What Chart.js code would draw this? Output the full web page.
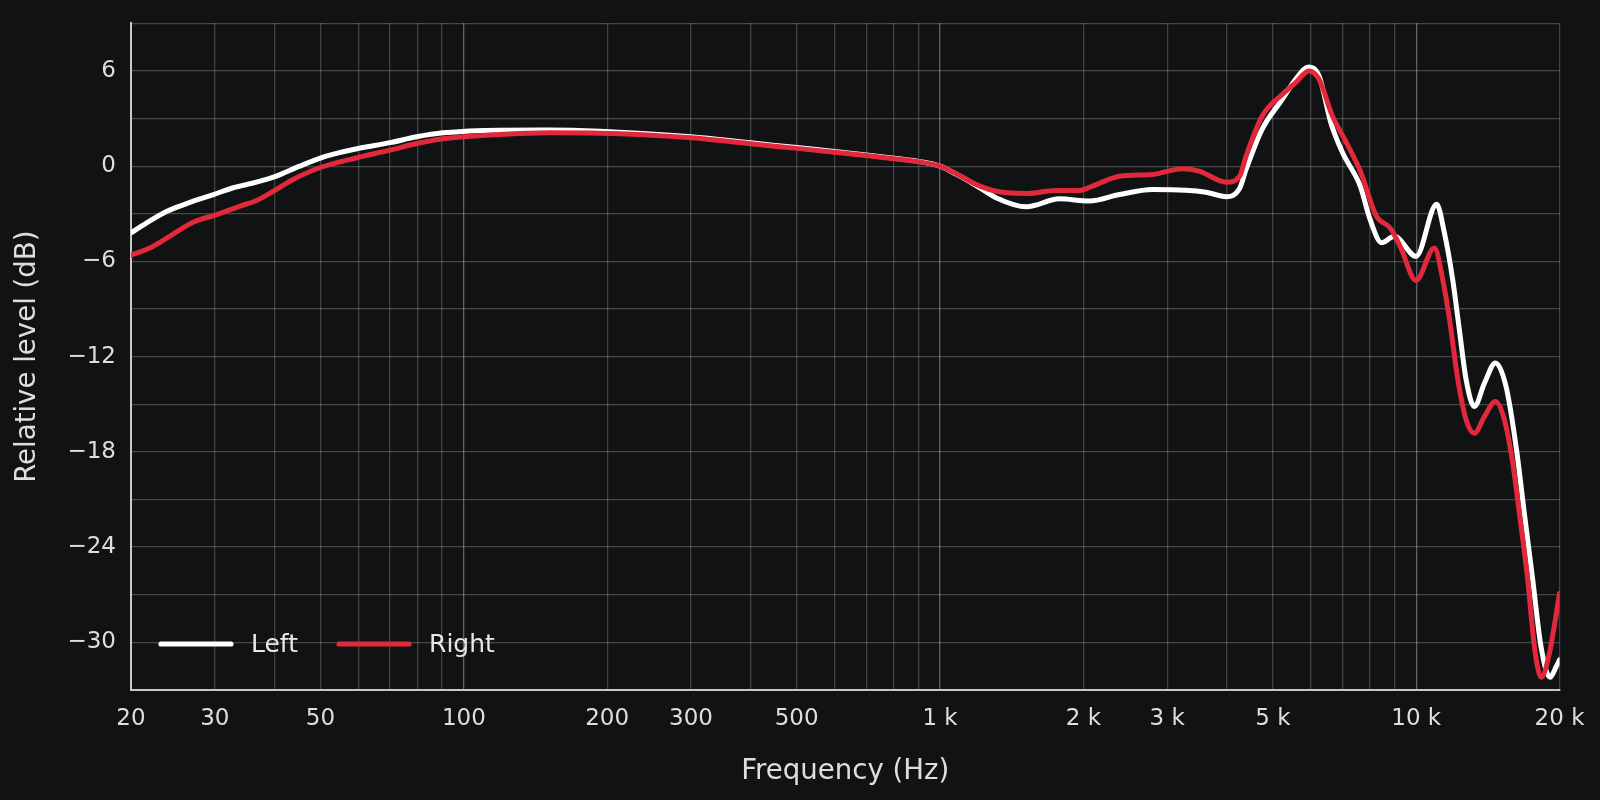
<!DOCTYPE html>
<html><head><meta charset="utf-8">
<script src="https://cdn.jsdelivr.net/npm/chart.js@4.4.1/dist/chart.umd.min.js"></script>
<style>html,body{margin:0;padding:0;background:#111214;}#wrap{width:1600px;height:800px;}</style>
</head><body><div id="wrap"><canvas id="c" width="1600" height="800" style="width:1600px;height:800px"></canvas></div>
<script>
const seriesNames = ['Left', 'Right'];
const leftFreq = [20,21.5,23.8,26.5,29.8,32.8,36.7,40.4,45.2,51.4,59.6,70,79.6,90.4,119,151,193,300,400,500,600,700,800,900,1000,1084,1212,1314,1518,1782,2060,2380,2794,3280,3620,3992,4258,4392,4746,5232,5582,5935,6252,6618,7006,7630,7990,8460,9000,9992,11040,11460,11930,12320,12730,13250,13910,14670,15440,16210,16870,17570,18290,19100,19660,20000];
const leftDb = [-4.2,-3.6,-2.84,-2.3,-1.79,-1.36,-1.01,-0.63,0.0,0.63,1.1,1.48,1.85,2.1,2.27,2.28,2.2,1.85,1.47,1.17,0.93,0.71,0.5,0.3,0.0,-0.52,-1.36,-2.0,-2.56,-2.06,-2.2,-1.79,-1.47,-1.51,-1.64,-1.92,-1.4,-0.21,2.32,4.21,5.47,6.25,5.68,2.74,0.84,-1.26,-3.3,-4.83,-4.42,-5.68,-2.4,-4.2,-7.15,-10.3,-13.45,-15.14,-13.67,-12.4,-13.88,-17.67,-21.87,-26.08,-30.28,-32.2,-31.55,-31.1];
const rightFreq = [20,21.9,24.1,27,30.3,33.9,36.7,39.8,43.8,49.8,59.6,70,79.6,90.4,119,151,193,300,400,500,600,700,800,900,1000,1084,1212,1314,1518,1754,1964,2090,2380,2794,3228,3500,3992,4258,4392,4746,5232,5582,5950,6252,6660,7130,7630,8250,8820,9270,9992,10920,11370,11750,12230,12730,13250,13910,14670,15320,15950,16470,17150,17710,18300,19040,20000];
const rightDb = [-5.6,-5.15,-4.42,-3.53,-3.05,-2.52,-2.16,-1.58,-0.84,-0.1,0.53,1.01,1.43,1.73,2.0,2.1,2.08,1.79,1.41,1.12,0.88,0.67,0.47,0.28,0.0,-0.5,-1.26,-1.58,-1.72,-1.53,-1.53,-1.26,-0.63,-0.52,-0.16,-0.31,-1.01,-0.63,0.63,3.15,4.52,5.26,6.0,5.47,3.2,1.5,-0.3,-3.15,-3.89,-5.1,-7.2,-5.15,-7.15,-9.67,-13.45,-15.98,-16.82,-15.77,-14.83,-15.98,-18.71,-21.87,-26.08,-30.28,-32.2,-30.7,-26.9];
const xGridValues = [20,30,40,50,60,70,80,90,100,200,300,400,500,600,700,800,900,1000,2000,3000,4000,5000,6000,7000,8000,9000,10000,20000];
const xTickValues = [20,30,50,100,200,300,500,1000,2000,3000,5000,10000,20000];
const xTickLabels = ['20','30','50','100','200','300','500','1 k','2 k','3 k','5 k','10 k','20 k'];
const yTickValues = [6,0,-6,-12,-18,-24,-30];
const xMajorValues = [100,1000,10000];

const FONT = '"DejaVu Sans", "Liberation Sans", sans-serif';
const TEXT = '#dedede';

const legendPlugin = {
  id: 'insideLegend',
  afterDraw(chart) {
    const ctx = chart.ctx, a = chart.chartArea;
    ctx.save();
    ctx.font = '25px ' + FONT;
    ctx.textBaseline = 'middle';
    ctx.lineCap = 'round';
    let x = a.left + 30;
    const y = a.bottom - 46;
    chart.data.datasets.forEach(ds => {
      ctx.strokeStyle = ds.borderColor;
      ctx.lineWidth = 5.2;
      ctx.beginPath(); ctx.moveTo(x, y); ctx.lineTo(x + 70, y); ctx.stroke();
      ctx.fillStyle = '#e8e8e8';
      ctx.fillText(ds.label, x + 90, y + 1);
      x += 90 + ctx.measureText(ds.label).width + 41;
    });
    ctx.restore();
  }
};

const bgPlugin = {
  id: 'bg',
  beforeDraw(chart) {
    const ctx = chart.ctx;
    ctx.save(); ctx.fillStyle = '#111214'; ctx.fillRect(0, 0, chart.width, chart.height); ctx.restore();
  }
};

new Chart(document.getElementById('c'), {
  type: 'line',
  data: {
    datasets: [
      { label: seriesNames[0], data: leftFreq.map((f, i) => ({x: f, y: leftDb[i]})), borderColor: '#ffffff', order: 1 },
      { label: seriesNames[1], data: rightFreq.map((f, i) => ({x: f, y: rightDb[i]})), borderColor: '#e2283b', order: 0 }
    ]
  },
  options: {
    responsive: false,
    animation: false,
    devicePixelRatio: 1,
    layout: { padding: { left: 0, right: 40, top: 23.3, bottom: 0 } },
    elements: {
      point: { radius: 0 },
      line: { borderWidth: 5, cubicInterpolationMode: 'monotone', borderCapStyle: 'round', borderJoinStyle: 'round' }
    },
    plugins: { legend: { display: false }, tooltip: { enabled: false } },
    scales: {
      x: {
        type: 'logarithmic', min: 20, max: 20000,
        afterBuildTicks(scale) { scale.ticks = xGridValues.map(v => ({ value: v })); },
        afterFit(scale) { scale.height = 110; },
        ticks: {
          autoSkip: false, maxRotation: 0, minRotation: 0, padding: 15.5, color: TEXT,
          font: { family: FONT, size: 23 },
          callback(v) { const i = xTickValues.indexOf(v); return i >= 0 ? xTickLabels[i] : ''; }
        },
        grid: {
          drawTicks: false,
          color: ctx => (ctx.tick && xMajorValues.includes(ctx.tick.value)) ? 'rgba(255,255,255,0.34)' : 'rgba(255,255,255,0.2)',
          lineWidth: 1.3
        },
        border: { display: true, color: '#c8c8c8', width: 2 },
        title: { display: true, text: 'Frequency (Hz)', color: TEXT, font: { family: FONT, size: 27.6 }, padding: { top: 0, bottom: 11.4 } }
      },
      y: {
        type: 'linear', min: -33, max: 9,
        afterFit(scale) { scale.width = 131; scale.paddingTop = 0; scale.paddingBottom = 0; },
        ticks: {
          stepSize: 3, padding: 15, color: TEXT, font: { family: FONT, size: 23 },
          callback(v) { return yTickValues.includes(v) ? (v < 0 ? '\u2212' + Math.abs(v) : String(v)) : ''; }
        },
        grid: { drawTicks: false, color: 'rgba(255,255,255,0.22)', lineWidth: 1.3 },
        border: { display: true, color: '#c8c8c8', width: 2 },
        title: { display: true, text: 'Relative level (dB)', color: TEXT, font: { family: FONT, size: 27.6 }, padding: { top: 11.5, bottom: 0 } }
      }
    }
  },
  plugins: [bgPlugin, legendPlugin]
});
</script>
</body></html>
